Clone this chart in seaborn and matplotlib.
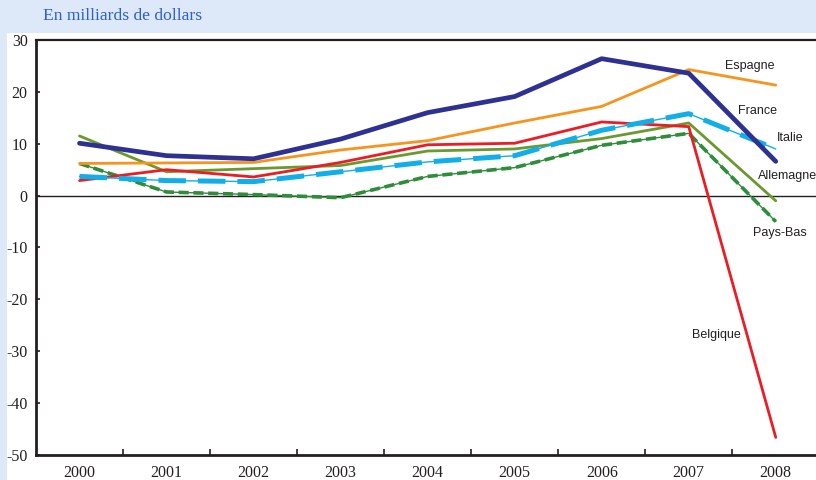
import matplotlib
matplotlib.use("Agg")
import matplotlib.pyplot as plt
from matplotlib.patches import Rectangle
from matplotlib.ticker import FixedLocator, FuncFormatter
import seaborn as sns
import pandas as pd

years = ["2000", "2001", "2002", "2003", "2004", "2005", "2006", "2007", "2008"]
france = [10.1, 7.7, 7.1, 10.9, 16.0, 19.1, 26.4, 23.6, 6.6]
espagne = [6.2, 6.3, 6.4, 8.8, 10.6, 14.0, 17.2, 24.3, 21.3]
belgique = [2.9, 5.0, 3.6, 6.4, 9.8, 10.1, 14.2, 13.3, -46.6]
allemagne = [11.5, 4.6, 5.2, 5.8, 8.6, 9.0, 11.0, 14.0, -1.0]
italie = [3.7, 2.9, 2.7, 4.6, 6.5, 7.7, 12.6, 15.8, 9.0]
pays_bas = [6.2, 0.7, 0.2, -0.4, 3.7, 5.4, 9.7, 12.0, -5.0]

label_x = [7.70, 7.79, 8.17, 8.14, 8.05, 7.32]
label_y = [24.9, 16.3, 11.1, 3.8, -7.2, -26.8]
label_names = ["Espagne", "France", "Italie", "Allemagne", "Pays-Bas", "Belgique"]

sns.set_style("white")
plt.rcParams["font.family"] = ["Liberation Sans", "DejaVu Sans"]

fig = plt.figure(figsize=(8.16, 4.8), dpi=100)
fig.patch.set_facecolor("#dde9f8")
bg = Rectangle((7 / 816, 0), 1, (480 - 33) / 480,
               transform=fig.transFigure, facecolor="white",
               edgecolor="none", zorder=-10)
fig.add_artist(bg)
ax = fig.add_axes([36 / 816, 1 - 455 / 480, 1 - 36 / 816 + 0.004, 415 / 480])
ax.set_zorder(1)
ax.set_facecolor("white")

x = list(range(len(years)))
df = pd.DataFrame({"x": x, "France": france, "Espagne": espagne,
                   "Belgique": belgique, "Allemagne": allemagne,
                   "Italie": italie, "Pays-Bas": pays_bas})

ax.axhline(0, color="#231f20", lw=1.0, zorder=1)

# Pays-Bas: thin solid + dashed thick
sns.lineplot(data=df, x="x", y="Pays-Bas", ax=ax, color="#2e8c3a", lw=1.0, zorder=2)
sns.lineplot(data=df, x="x", y="Pays-Bas", ax=ax, color="#2e8c3a", lw=2.6,
             zorder=2).lines[-1].set_dashes([2.8, 1.3])
sns.lineplot(data=df, x="x", y="Allemagne", ax=ax, color="#6a9a2e", lw=2.0, zorder=3)
sns.lineplot(data=df, x="x", y="Belgique", ax=ax, color="#ec1c24", lw=2.0, zorder=4)
# Italie: thin solid + thick long dashes
sns.lineplot(data=df, x="x", y="Italie", ax=ax, color="#12aee8", lw=1.0, zorder=5)
sns.lineplot(data=df, x="x", y="Italie", ax=ax, color="#12aee8", lw=3.6,
             zorder=5).lines[-1].set_dashes([5.5, 2.4])
sns.lineplot(data=df, x="x", y="Espagne", ax=ax, color="#f7941d", lw=2.0, zorder=6)
sns.lineplot(data=df, x="x", y="France", ax=ax, color="#2e3192", lw=3.4, zorder=7)

for lx, ly, name in zip(label_x, label_y, label_names):
    ax.text(lx, ly, name, ha="center", va="center", fontsize=9,
            color="#231f20", family=["Liberation Sans", "DejaVu Sans"])

ax.set_xlim(-0.5, 8.5)
ax.set_ylim(-50, 30)
ax.set_xlabel("")
ax.set_ylabel("")

ax.xaxis.set_major_locator(FixedLocator([i + 0.5 for i in range(8)]))
ax.xaxis.set_major_formatter(FuncFormatter(lambda v, p: ""))
ax.xaxis.set_minor_locator(FixedLocator(x))
ax.set_xticklabels(years, minor=True)
ax.tick_params(axis="x", which="major", direction="in", length=4, width=1.2,
               color="#231f20", bottom=True)
ax.tick_params(axis="x", which="minor", length=0, pad=7, labelsize=11.5,
               labelcolor="#231f20")
ax.set_yticks(list(range(-50, 31, 10)))
ax.yaxis.set_major_formatter(FuncFormatter(lambda v, p: "%d" % v))
ax.tick_params(axis="y", direction="in", length=3, width=1.2, color="#231f20",
               left=True, pad=6, labelsize=11.5, labelcolor="#231f20")
for lab in ax.get_xticklabels(minor=True) + ax.get_yticklabels():
    lab.set_family(["Liberation Serif", "DejaVu Serif"])

for side in ["left", "bottom"]:
    ax.spines[side].set_linewidth(2.0)
    ax.spines[side].set_color("#231f20")
ax.spines["top"].set_linewidth(1.6)
ax.spines["top"].set_color("#231f20")
ax.spines["right"].set_visible(False)

fig.text(43 / 816, 1 - 19.5 / 480, "En milliards de dollars", color="#2c5fd6",
         fontsize=12.6, va="baseline", ha="left",
         family=["Liberation Serif", "DejaVu Serif"])

fig.savefig("out.png", dpi=100, facecolor=fig.get_facecolor())
